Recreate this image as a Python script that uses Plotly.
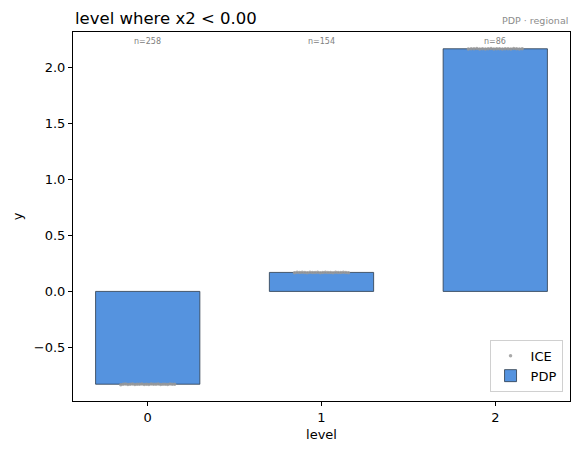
import numpy as np
import plotly.graph_objects as go

levels = [0, 1, 2]
pdp_values = [-0.83, 0.17, 2.17]
counts = [258, 154, 86]
ice_level0 = [-0.834, -0.831, -0.829, -0.833, -0.830, -0.828, -0.832, -0.830, -0.831, -0.829, -0.833, -0.830,
              -0.832, -0.828, -0.831, -0.830, -0.829, -0.832, -0.831, -0.830, -0.833, -0.829, -0.831, -0.830]
ice_level1 = [0.168, 0.171, 0.169, 0.172, 0.170, 0.167, 0.171, 0.169, 0.170, 0.172, 0.168, 0.170,
              0.171, 0.169, 0.170, 0.168, 0.171, 0.170, 0.169, 0.172, 0.170, 0.168]
ice_level2 = [2.168, 2.171, 2.170, 2.172, 2.169, 2.171, 2.168, 2.170, 2.172, 2.169, 2.171, 2.170,
              2.169, 2.171, 2.170, 2.168, 2.172, 2.170, 2.169, 2.171]
ice_values = [ice_level0, ice_level1, ice_level2]

BAR_COLOR = "#5593df"
EDGE = "#2b3a4a"
GRAY = "#9a9a9a"
FONT = "DejaVu Sans"

fig = go.Figure()

ice_x, ice_y = [], []
for lvl, vals in zip(levels, ice_values):
    offs = np.linspace(-0.155, 0.155, len(vals))
    ice_x.extend(lvl + offs)
    ice_y.extend(vals)

fig.add_trace(go.Scatter(
    x=ice_x, y=ice_y, mode="markers", name="ICE",
    marker=dict(color=GRAY, size=3.5, opacity=0.85),
))

fig.add_trace(go.Bar(
    x=levels, y=pdp_values, width=0.6, name="PDP",
    marker=dict(color=BAR_COLOR, line=dict(color=EDGE, width=0.8)),
))

for lvl, n in zip(levels, counts):
    fig.add_annotation(x=lvl, y=1, xref="x", yref="paper", yanchor="top", yshift=-3,
                       text=f"n={n}", showarrow=False,
                       font=dict(size=8, color="#808080", family=FONT))

fig.add_annotation(x=0, y=1, xref="paper", yref="paper", xanchor="left", yanchor="bottom",
                   yshift=2, text="level where x2 < 0.00", showarrow=False,
                   font=dict(size=16.5, color="black", family=FONT))
fig.add_annotation(x=1, y=1, xref="paper", yref="paper", xanchor="right", yanchor="bottom",
                   yshift=4, text="PDP · regional", showarrow=False,
                   font=dict(size=9.5, color="#8c8c8c", family=FONT))

yticks = [-0.5, 0.0, 0.5, 1.0, 1.5, 2.0]
fig.update_layout(
    width=578, height=455,
    margin=dict(l=73, r=8, t=32, b=54),
    paper_bgcolor="white", plot_bgcolor="white",
    font=dict(family=FONT, size=13, color="black"),
    showlegend=True,
    legend=dict(x=0.985, y=0.025, xanchor="right", yanchor="bottom",
                bgcolor="rgba(255,255,255,0.8)", bordercolor="#d0d0d0", borderwidth=1,
                traceorder="normal", font=dict(size=13)),
    xaxis=dict(range=[-0.43, 2.43], tickvals=levels, ticktext=[str(l) for l in levels],
               showline=True, linecolor="black", linewidth=1, mirror=True,
               ticks="outside", ticklen=4, tickcolor="black", showgrid=False, zeroline=False,
               title=dict(text="level", standoff=6, font=dict(size=13))),
    yaxis=dict(range=[-0.98, 2.32], tickvals=yticks,
               ticktext=[f"{v:.1f}".replace("-", "\u2212") for v in yticks],
               showline=True, linecolor="black", linewidth=1, mirror=True,
               ticks="outside", ticklen=4, tickcolor="black", showgrid=False, zeroline=False,
               title=dict(text="y", standoff=8, font=dict(size=13))),
)

fig.write_html("out.html")
